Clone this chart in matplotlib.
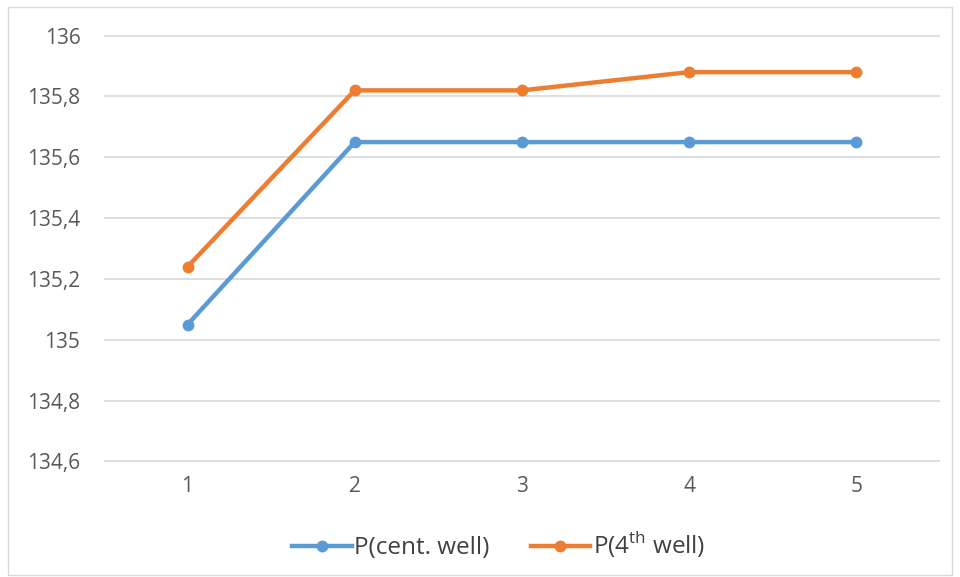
import numpy as np
import matplotlib
matplotlib.use("Agg")
from matplotlib import pyplot as plt
from matplotlib.ticker import FuncFormatter, MultipleLocator
from matplotlib.patches import Rectangle

# data
steps = [1, 2, 3, 4, 5]
p_cent = [135.05, 135.65, 135.65, 135.65, 135.65]
p_4th = [135.24, 135.82, 135.82, 135.88, 135.88]
labels = ["P(cent. well)", r"P(4$^{\mathrm{th}}$ well)"]

plt.rcParams['font.family'] = ['Open Sans', 'DejaVu Sans']
plt.rcParams['mathtext.fontset'] = 'custom'
plt.rcParams['mathtext.rm'] = 'Open Sans'

fig = plt.figure(figsize=(9.6, 5.77), dpi=100)
ax = fig.add_axes([0.1083, 0.1993, 0.8707, 0.74])

ax.plot(steps, p_cent, color='#5B9BD5', lw=3.2, marker='o', ms=7.5, label=labels[0])
ax.plot(steps, p_4th, color='#ED7D31', lw=3.2, marker='o', ms=7.5, label=labels[1])

ax.set_xlim(0.5, 5.5)
ax.set_ylim(134.598, 136.002)
ax.set_xticks(steps)
ax.yaxis.set_major_locator(MultipleLocator(0.2))
ax.yaxis.set_major_formatter(FuncFormatter(lambda v, p: ('%g' % round(v, 1)).replace('.', ',')))
ax.grid(axis='y', color='#d9d9d9', lw=1.2)
ax.set_axisbelow(True)
for s in ax.spines.values():
    s.set_visible(False)
ax.tick_params(length=0, labelsize=15, colors='#595959', pad=10)
ax.tick_params(axis='y', pad=17)

leg = ax.legend(loc='center', bbox_to_anchor=(0.472, -0.195), ncol=2, frameon=False,
                fontsize=17.5, handlelength=2.45, columnspacing=1.7, handletextpad=0.1)
for t in leg.get_texts():
    t.set_color('#404040')

fig.patches.append(Rectangle((8/960, 2/577), 944/960, 568/577, transform=fig.transFigure,
                             fill=False, edgecolor='#d9d9d9', lw=1))

fig.savefig('out.png', dpi=100)
